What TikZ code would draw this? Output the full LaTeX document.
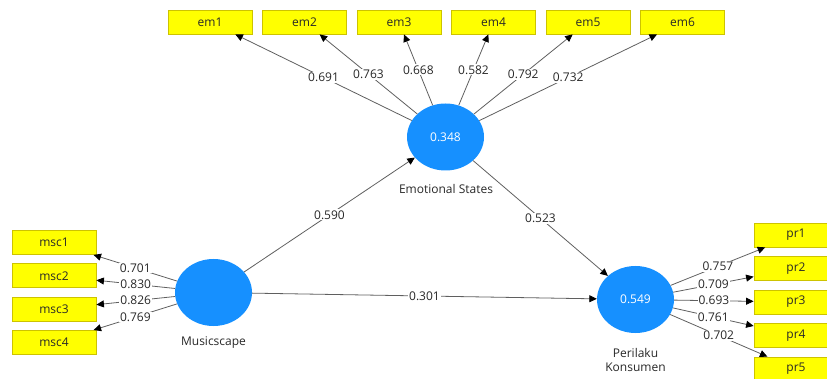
\documentclass[tikz,border=0pt]{standalone}
\usepackage{fontspec}
\setmainfont{Open Sans}
\usetikzlibrary{shapes.geometric,arrows.meta}
\definecolor{lvblue}{RGB}{22,144,255}
\definecolor{mvyellow}{RGB}{255,255,0}
\definecolor{mvborder}{RGB}{205,195,0}
\definecolor{pathgray}{RGB}{95,95,95}
\definecolor{txtgray}{RGB}{40,40,40}

\begin{document}
\begin{tikzpicture}[x=1pt,y=-1pt,
  font=\fontsize{12}{14}\selectfont,
  latent/.style={ellipse,fill=lvblue,minimum width=77pt,minimum height=67pt,
    inner sep=0pt,text=white},
  indicator/.style={rectangle,fill=mvyellow,draw=mvborder,line width=0.8pt,
    minimum width=84pt,minimum height=24pt,inner sep=0pt,text=txtgray},
  lvname/.style={text=txtgray,inner sep=0pt,align=center},
  link/.style={draw=pathgray,line width=0.8pt,
    -{Triangle[length=7.5pt,width=7pt,color=black]}},
  coef/.style={fill=white,inner sep=1pt,pos=0.5,text=txtgray}
]
\clip (0,0) rectangle (827,379);

% latent variables
\node[latent] (es) at (445.5,137) {0.348};
\node[latent] (ms) at (213.5,292.5) {};
\node[latent] (pk) at (635.5,299.5) {0.549};

\node[lvname] (esname) at (446,189) {Emotional States};
\node[lvname] (msname) at (213.5,343) {Musicscape};
\node[lvname] (pkname) at (635.5,360) {Perilaku\\Konsumen};

% indicators of Emotional States
\foreach \i in {1,...,6}
  \node[indicator] (em\i) at ({210+94.5*(\i-1)},22) {em\i};

% indicators of Musicscape
\node[indicator] (msc1) at (54,242.5) {msc1};
\node[indicator] (msc2) at (54,275.8) {msc2};
\node[indicator] (msc3) at (54,309.1) {msc3};
\node[indicator] (msc4) at (54,342.4) {msc4};

% indicators of Perilaku Konsumen
\node[indicator] (pr1) at (796,235) {pr1};
\node[indicator] (pr2) at (796,268.5) {pr2};
\node[indicator] (pr3) at (796,302) {pr3};
\node[indicator] (pr4) at (796,335.5) {pr4};
\node[indicator] (pr5) at (796,369) {pr5};

% outer loadings
\draw[link] (es) -- node[coef]{0.691} (em1);
\draw[link] (es) -- node[coef]{0.763} (em2);
\draw[link] (es) -- node[coef]{0.668} (em3);
\draw[link] (es) -- node[coef]{0.582} (em4);
\draw[link] (es) -- node[coef]{0.792} (em5);
\draw[link] (es) -- node[coef]{0.732} (em6);

\draw[link] (ms) -- node[coef]{0.701} (msc1);
\draw[link] (ms) -- node[coef]{0.830} (msc2);
\draw[link] (ms) -- node[coef]{0.826} (msc3);
\draw[link] (ms) -- node[coef]{0.769} (msc4);

\draw[link] (pk) -- node[coef]{0.757} (pr1);
\draw[link] (pk) -- node[coef]{0.709} (pr2);
\draw[link] (pk) -- node[coef]{0.693} (pr3);
\draw[link] (pk) -- node[coef]{0.761} (pr4);
\draw[link] (pk) -- node[coef]{0.702} (pr5);

% structural paths
\draw[link] (ms) -- node[coef]{0.590} (es);
\draw[link] (es) -- node[coef]{0.523} (pk);
\draw[link] (ms) -- node[coef]{0.301} (pk);
\end{tikzpicture}
\end{document}
